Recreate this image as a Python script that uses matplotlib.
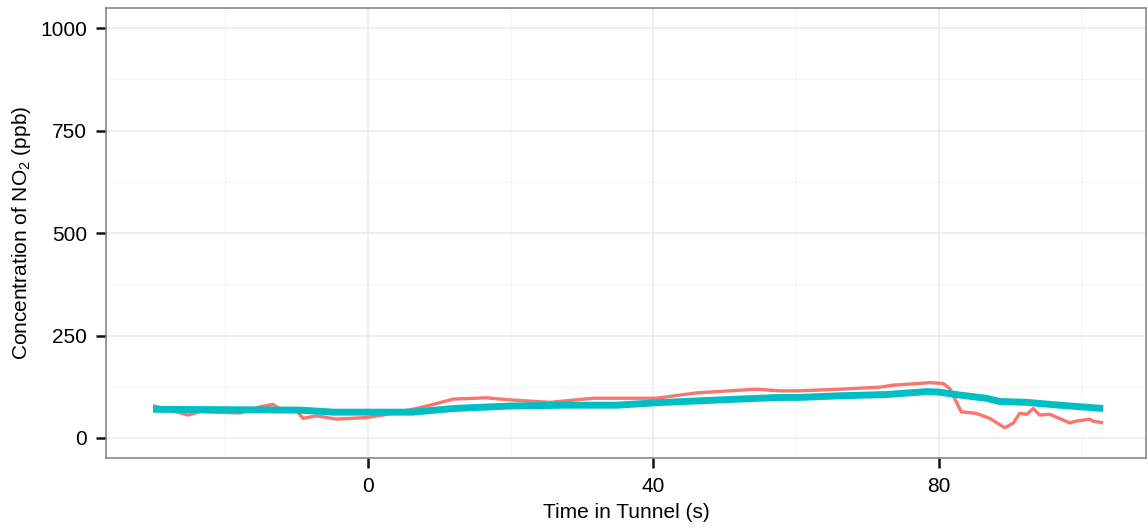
import matplotlib
matplotlib.use("Agg")
import matplotlib.pyplot as plt

# Data
red_x = [-30.1, -25.2, -23.5, -17.9, -15.1, -13.3, -12.3, -10.0, -9.1, -7.2, -4.4, -0.2, 2.1, 6.8, 8.7, 12.0,
         16.6, 19.9, 25.5, 31.6, 40.4, 46.0, 50.7, 54.4, 57.7, 60.5, 66.1, 71.7, 73.6, 76.4, 78.7, 80.6,
         81.5, 83.1, 85.2, 87.1, 89.2, 90.4, 91.3, 92.3, 93.2, 94.1, 95.5, 98.3, 99.2, 101.1, 101.6, 103.0]
red_y = [79, 56, 64, 61, 76, 82, 70, 67, 48, 54, 46, 50, 56, 72, 80, 95,
         98, 93, 87, 97, 97, 110, 115, 119, 115, 115, 119, 124, 129, 132, 135, 133,
         121, 64, 60, 48, 25, 36, 60, 58, 72, 56, 58, 37, 41, 46, 41, 37]

cyan_x = [-30.1, -20.0, -9.5, -4.8, 6.2, 12.0, 19.9, 27.4, 34.8, 40.4, 50.7, 57.7, 60.5, 66.1, 72.6,
          78.2, 80.0, 82.8, 86.6, 88.5, 92.3, 96.9, 103.0]
cyan_y = [70, 69, 68, 63, 63, 72, 78, 80, 80, 86, 94, 99, 99, 103, 106,
          113, 112, 105, 97, 89, 87, 80, 72]

x_ticks = [0, 40, 80]
y_ticks = [0, 250, 500, 750, 1000]

plt.rcParams['font.family'] = ['Liberation Sans', 'DejaVu Sans']
plt.rcParams['mathtext.fontset'] = 'custom'
plt.rcParams['mathtext.rm'] = 'Liberation Sans'
plt.rcParams['mathtext.it'] = 'Liberation Sans'

fig = plt.figure(figsize=(11.48, 5.32), dpi=100)
ax = fig.add_axes([106/1148, 1 - 458/532, (1146 - 106)/1148, (458 - 8)/532])

ax.set_xlim(-36.7, 109.0)
ax.set_ylim(-48.8, 1049)

# grid
for v in [-20, 20, 60, 100]:
    ax.axvline(v, color='#F5F5F5', lw=0.8, zorder=0)
for v in [125, 375, 625, 875]:
    ax.axhline(v, color='#F5F5F5', lw=0.8, zorder=0)
for v in [-40, 0, 40, 80]:
    ax.axvline(v, color='#EBEBEB', lw=1.1, zorder=0)
for v in y_ticks:
    ax.axhline(v, color='#EBEBEB', lw=1.1, zorder=0)

ax.plot(red_x, red_y, color='#F8766D', lw=2.4, solid_capstyle='butt', zorder=2)
ax.plot(cyan_x, cyan_y, color='#00BFC4', lw=5.0, solid_capstyle='butt', zorder=3)

ax.set_xticks(x_ticks)
ax.set_yticks(y_ticks)
ax.tick_params(axis='both', length=7.5, width=1.8, color='#111111', labelsize=15, labelcolor='black')
ax.tick_params(axis='x', pad=6.5)
ax.tick_params(axis='y', pad=6)

for s in ax.spines.values():
    s.set_color('#7F7F7F')
    s.set_linewidth(1.1)

ax.set_xlabel('Time in Tunnel (s)', fontsize=15, labelpad=5)
ax.set_ylabel(r'Concentration of NO$_2$ (ppb)', fontsize=15, labelpad=5)

fig.savefig('out.png', dpi=100)
